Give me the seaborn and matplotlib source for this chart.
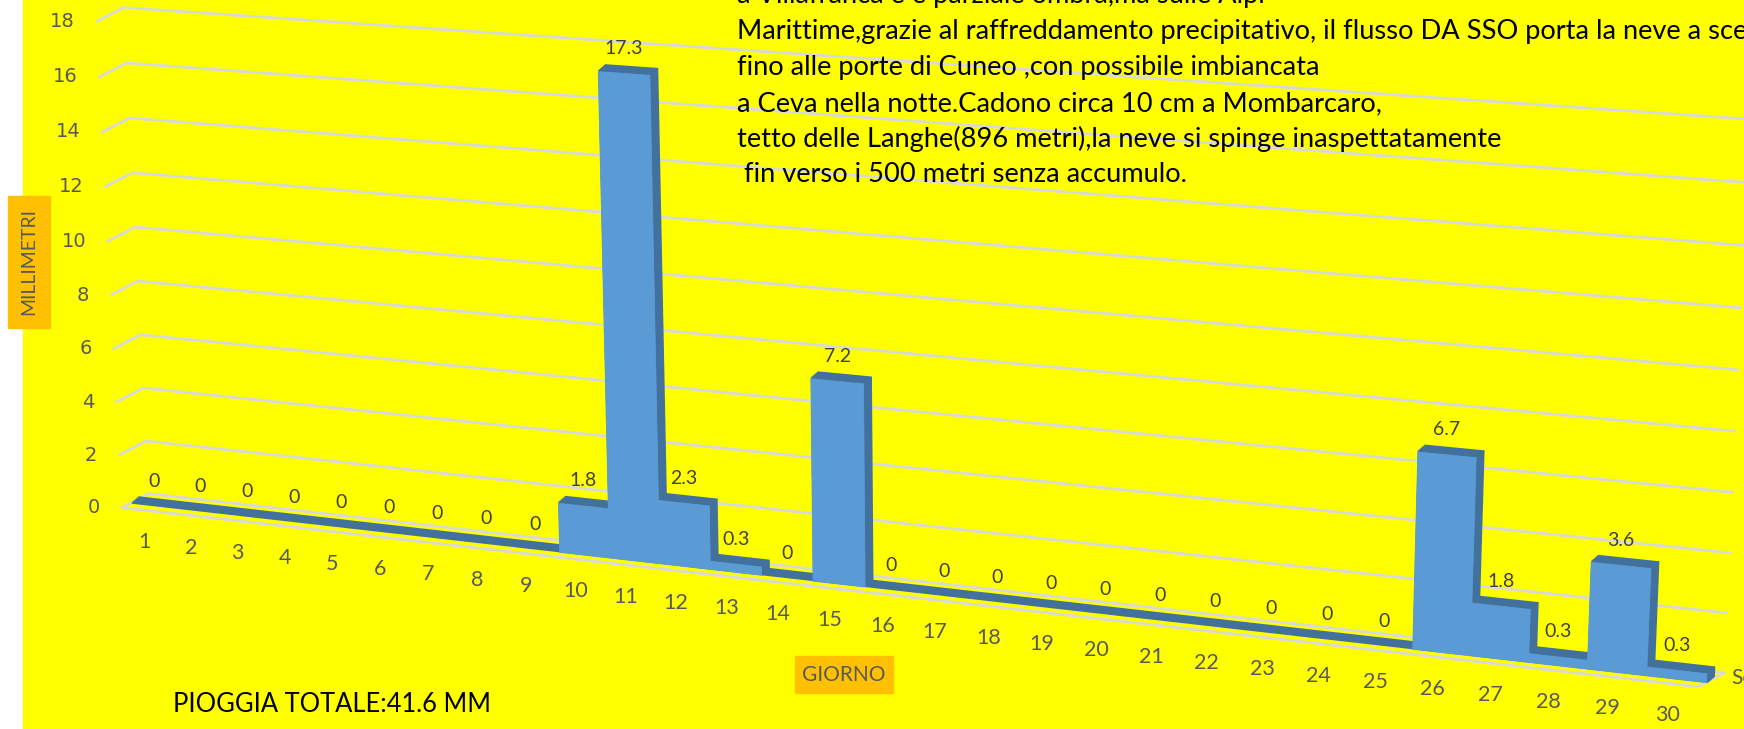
import numpy as np
import matplotlib
matplotlib.use('Agg')
import matplotlib.pyplot as plt
import seaborn as sns
from matplotlib.transforms import Transform, Affine2D
from matplotlib.patches import Rectangle, ConnectionPatch

# data
days = [str(d) for d in range(1, 31)]
rain = [0, 0, 0, 0, 0, 0, 0, 0, 0, 1.8, 17.3, 2.3, 0.3, 0, 7.2,
        0, 0, 0, 0, 0, 0, 0, 0, 0, 0, 6.7, 1.8, 0.3, 3.6, 0.3]
yticks = [0, 2, 4, 6, 8, 10, 12, 14, 16, 18]
note = ['a Villafranca e è parziale ombra,ma sulle Alpi',
        'Marittime,grazie al raffreddamento precipitativo, il flusso DA SSO porta la neve a scendere',
        'fino alle porte di Cuneo ,con possibile imbiancata',
        'a Ceva nella notte.Cadono circa 10 cm a Mombarcaro,',
        'tetto delle Langhe(896 metri),la neve si spinge inaspettatamente',
        ' fin verso i 500 metri senza accumulo.']
total_label = 'PIOGGIA TOTALE:41.6 MM'

W, H = 1744, 729
BLUE = '#5b9bd5'
DARK = '#41719c'
GRID = '#d9d9d9'
YELLOW = '#ffff00'
ORANGE = '#ffc000'

sns.set_style('white')
plt.rcParams['font.family'] = ['Lato', 'DejaVu Sans']

# the excel 3d view: (category position, mm) on the bar front plane -> pixels (from top-left)
calib_src = [(-0.5, 0), (-0.5, 10), (-0.5, 18), (8.5, 0), (8.5, 1.8), (9.5, 17.3),
             (13.5, 0), (13.5, 7.2), (24.5, 0), (24.5, 6.7), (27.5, 3.6), (29.5, 0)]
calib_dst = [(131, 503.5), (117, 238), (105, 18.4), (559, 551.7), (559, 503), (599, 70),
             (812, 580.7), (812, 379), (1415, 650), (1415, 451.7), (1593, 563), (1705, 682.7)]


def fit_homography(src, dst):
    rows = []
    for (x, y), (X, Y) in zip(src, dst):
        X, Y = X / 1000, Y / 1000
        rows.append([x, y, 1, 0, 0, 0, -X * x, -X * y, -X])
        rows.append([0, 0, 0, x, y, 1, -Y * x, -Y * y, -Y])
    _, _, vt = np.linalg.svd(np.array(rows))
    return np.diag([1000, 1000, 1]) @ vt[-1].reshape(3, 3)


class Persp(Transform):
    input_dims = 2
    output_dims = 2

    def __init__(self, m):
        super().__init__()
        self.m = m

    def transform_non_affine(self, values):
        pts = np.asarray(values, float).reshape(-1, 2)
        q = np.column_stack([pts, np.ones(len(pts))]) @ self.m.T
        return q[:, :2] / q[:, 2:3]


fig = plt.figure(figsize=(W / 100, H / 100), dpi=100)
ax = fig.add_axes([0, 0, 1, 1])
ax.set_axis_off()

to_fig = Affine2D().scale(1 / W, -1 / H).translate(0, 1) + fig.transFigure
proj = Persp(fit_homography(calib_src, calib_dst))


def plane(dx=0, dy=0):
    return proj + Affine2D().translate(dx, dy) + to_fig


fig.add_artist(Rectangle((23 / W, 0), 1 - 23 / W, 1, transform=fig.transFigure,
                         color=YELLOW, zorder=-10))

# back wall gridlines + side wall ticks, floor outline (all behind the bars)
back = plane(18, -10)
front = plane(-9, 4)
for v in yticks:
    ax.plot([-0.5, 29.5], [v, v], color=GRID, lw=2, transform=back, clip_on=False, zorder=0.2)
    ax.add_artist(ConnectionPatch((-0.5, v), (-0.5, v), coordsA=back, coordsB=front,
                                  color=GRID, lw=2, arrowstyle='-', zorder=0.2))
    ax.text(-0.5, v, str(v), transform=plane(-31, 4), ha='right', va='center',
            fontsize=14, color='#595959', family='DejaVu Sans')
ax.plot([-0.5, 29.5], [0, 0], color=GRID, lw=2, transform=front, clip_on=False, zorder=0.2)
ax.add_artist(ConnectionPatch((29.5, 0), (29.5, 0), coordsA=back, coordsB=front,
                              color=GRID, lw=2, arrowstyle='-', zorder=0.2))

# bars: dark copies pushed back in depth, then the front faces
n_steps = 8
for k in range(n_steps, 0, -1):
    start = len(ax.patches)
    sns.barplot(x=days, y=rain, width=1, color=DARK, saturation=1, errorbar=None, ax=ax)
    for p in ax.patches[start:]:
        p.set_transform(plane(7.5 * k / n_steps, -6.5 * k / n_steps))
        p.set_edgecolor(DARK)
        p.set_linewidth(1.3)
start = len(ax.patches)
sns.barplot(x=days, y=rain, width=1, color=BLUE, saturation=1, errorbar=None, ax=ax)
for p, v in zip(ax.patches[start:], rain):
    p.set_transform(plane())
    p.set_edgecolor(BLUE)
    p.set_linewidth(0.6 if v > 0 else 0)

for i, v in enumerate(rain):
    ax.text(i, v, f'{v:g}', transform=plane(0, -25), ha='center', va='center',
            fontsize=14, color='#404040')
for i, d in enumerate(days):
    ax.text(i, 0, d, transform=plane(-9, 36), ha='center', va='center',
            fontsize=15.5, color='#595959')

# axis titles, note and total
fig.add_artist(Rectangle((8, 196), 42, 132, transform=to_fig, color=ORANGE))
fig.text(29, 262, 'MILLIMETRI', transform=to_fig, rotation=90, ha='center', va='center',
         fontsize=14, color='#595959')
fig.add_artist(Rectangle((795, 656), 98, 37, transform=to_fig, color=ORANGE))
fig.text(844, 675, 'GIORNO', transform=to_fig, ha='center', va='center',
         fontsize=15, color='#595959')
fig.text(1731, 678, 'Serie1', transform=to_fig, ha='left', va='center',
         fontsize=15, color='#595959')

for j, line in enumerate(note):
    fig.text(737, -4 + j * 35.8, line, transform=to_fig, ha='left', va='center',
             fontsize=19.6, color='black')
fig.text(173, 705, total_label, transform=to_fig, ha='left', va='center',
         fontsize=18.4, color='black')

fig.savefig('out.png', dpi=100, facecolor='white')
